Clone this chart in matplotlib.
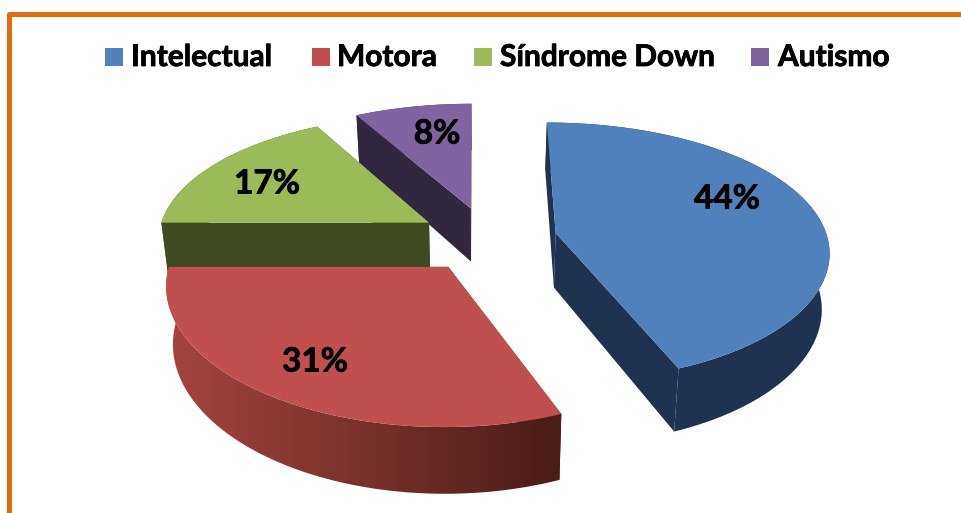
import numpy as np
import matplotlib
matplotlib.use("Agg")
import matplotlib.pyplot as plt
import matplotlib.patheffects as pe
from matplotlib.patches import Polygon, Rectangle
from matplotlib.colors import to_rgb

# chart data
categories = ["Intelectual", "Motora", "Síndrome Down", "Autismo"]
percent = [44, 31, 17, 8]
labels = ["44%", "31%", "17%", "8%"]

top_colors = ["#4f81bd", "#c0504d", "#9bbb59", "#8064a2"]
wall_colors = ["#1f3350", "#a5453f", "#3f4a22", "#31273f"]
red_dark = "#4b1c18"

# where the text goes, in pixels
label_x = [727, 315, 267, 437]
label_y = [199, 362, 184, 134]
legend_box_x = [105, 312, 474, 751]
legend_text_x = [131, 337, 500, 778]

# camera settings for the fake 3d pie
X0 = 476.0      # x of the vanishing point
HORIZON = -644.0
CY = 239.0
CX = 488.0
RX = 272.0
K = 0.145
KX = 0.125      # x converges a little less than y
EXPLODE = 0.255
HEIGHT = 55.0
SHRINK = 0.022  # walls narrow a bit going down


def project(u, v, bottom=False):
    # u goes right, v goes towards the viewer, radius of the pie is 1
    w = 1.0 / (1.0 - K * v)
    x = X0 + (RX * u + CX - X0) / (1.0 - KX * v)
    y = HORIZON + (CY - HORIZON) * w
    if bottom:
        x = X0 + (x - X0) * (1 - SHRINK)
        y = y + HEIGHT * w
    return x, y


fig = plt.figure(figsize=(9.61, 5.13), dpi=100)
ax = fig.add_axes([0, 0, 1, 1])
ax.axis("off")

# orange frame, only left and top are in view
ax.plot([9, 9, 961], [513, 13.5, 13.5], color="#e36c0a", lw=3.6, solid_joinstyle="round")

# slice angles, clockwise from the top
edges = np.concatenate([[0], np.cumsum(percent)]) / np.sum(percent) * 2 * np.pi
slices = []
for i in range(len(percent)):
    a0, a1 = edges[i], edges[i + 1]
    mid = (a0 + a1) / 2
    du = EXPLODE * np.sin(mid)
    dv = -EXPLODE * np.cos(mid)
    t = np.linspace(a0, a1, 120)
    u = du + np.sin(t)
    v = dv - np.cos(t)
    slices.append((du, dv, u, v))

# back slices first so the front ones cover them
zorder = 2
for i in [3, 2, 0, 1]:
    du, dv, u, v = slices[i]
    xa, ya = project(du, dv)
    xab, yab = project(du, dv, True)
    xt, yt = project(u, v)
    xb, yb = project(u, v, True)
    wall = wall_colors[i]

    # the two cut faces
    for j in [0, -1]:
        face = [(xa, ya), (xt[j], yt[j]), (xb[j], yb[j]), (xab, yab)]
        ax.add_patch(Polygon(face, closed=True, fc=wall if i != 1 else red_dark, ec="none", zorder=zorder))

    # outer wall, the red one fades to dark from left to right
    outer = list(zip(xt, yt)) + list(zip(xb[::-1], yb[::-1]))
    if i == 1:
        shape = Polygon(outer, closed=True, fc="none", ec="none", zorder=zorder)
        ax.add_patch(shape)
        f = np.linspace(0, 1, 256)[:, None]
        c1 = np.array(to_rgb(wall))
        c2 = np.array(to_rgb(red_dark))
        grad = (c1[None, :] * (1 - f) + c2[None, :] * f)[None, :, :]
        im = ax.imshow(grad, extent=(min(xt.min(), xb.min()), xt.max(), 513, 0),
                       aspect="auto", zorder=zorder)
        im.set_clip_path(shape)
    else:
        ax.add_patch(Polygon(outer, closed=True, fc=wall, ec="none", zorder=zorder))

    # top of the slice
    top = [(xa, ya)] + list(zip(xt, yt))
    ax.add_patch(Polygon(top, closed=True, fc=top_colors[i], ec="none", zorder=zorder + 0.5))
    zorder += 1

thick = [pe.withStroke(linewidth=0.6, foreground="black")]
for i in range(len(labels)):
    ax.text(label_x[i], label_y[i], labels[i], fontsize=24, fontweight="bold",
            family="Lato", color="black", ha="center", va="center", zorder=10, path_effects=thick)

# legend
for i in range(len(categories)):
    ax.add_patch(Rectangle((legend_box_x[i], 48), 18, 18, fc=top_colors[i], ec="none"))
    ax.text(legend_text_x[i], 57, categories[i], fontsize=21.5, fontweight="bold",
            family="Lato", color="black", ha="left", va="center", path_effects=thick)

ax.set_xlim(0, 961)
ax.set_ylim(513, 0)
fig.savefig("out.png", dpi=100)
